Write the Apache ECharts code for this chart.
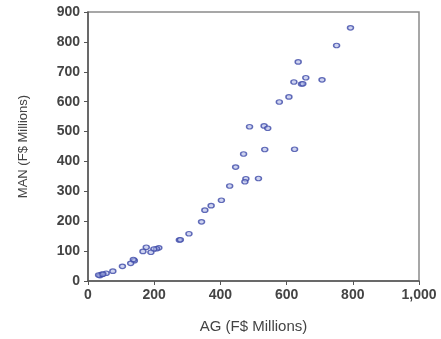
<!DOCTYPE html>
<html><head><meta charset="utf-8">
<script src="https://cdn.jsdelivr.net/npm/echarts@6/dist/echarts.min.js"></script>
<style>html,body{margin:0;padding:0;background:#fff}#c{width:441px;height:339px}</style>
</head><body><div id="c"></div>
<script>
var ag  = [793,751,635,622,645,649,658,707,607,578,488,532,543,534,624,470,446,477,474,515,428,403,372,353,343,305,276,279,214,207,199,176,166,190,140,137,129,104,75,55,41,36,32,45];
var man = [847,788,733,666,659,660,680,673,616,599,516,519,511,440,441,425,381,342,332,343,318,270,252,237,198,158,137,138,111,108,107,113,99,96,68,72,59,49,33,26,22,18,20,23];
var xTicks = [0,200,400,600,800,1000];
var yTicks = [0,100,200,300,400,500,600,700,800,900];
var pts = ag.map(function(v,i){return [v, man[i]];});
var chart = echarts.init(document.getElementById('c'));
var lab = {color:'#444', fontFamily:'Liberation Sans, Arial', fontSize:14, fontWeight:'bold'};
chart.setOption({
  animation:false,
  grid:{left:88,right:22,top:12,bottom:56,show:true,borderColor:'#8a8a8a',borderWidth:1.5},
  xAxis:{type:'value',min:0,max:1000,interval:200,
    name:'AG (F$ Millions)',nameLocation:'middle',nameGap:38,
    nameTextStyle:{color:'#444',fontFamily:'Liberation Sans, Arial',fontSize:15},
    axisLine:{lineStyle:{color:'#555',width:1.5}},
    axisTick:{show:true,length:4,lineStyle:{color:'#555'}},
    splitLine:{show:false},
    axisLabel:Object.assign({margin:7,formatter:function(v){return v>=1000?'1,000':String(v);}},lab)},
  yAxis:{type:'value',min:0,max:900,interval:100,
    name:'MAN (F$ Millions)',nameLocation:'middle',nameGap:58,
    nameTextStyle:{color:'#444',fontFamily:'Liberation Sans, Arial',fontSize:13},
    axisLine:{show:true,lineStyle:{color:'#555',width:1.5}},
    axisTick:{show:true,length:4,lineStyle:{color:'#555'}},
    splitLine:{show:false},
    axisLabel:Object.assign({margin:8},lab)},
  series:[{type:'scatter',data:pts,symbol:'circle',symbolSize:[6,4.5],
    itemStyle:{color:'rgba(170,178,228,0.7)',borderColor:'#3d4aa8',borderWidth:1.3}}]
});
</script></body></html>
